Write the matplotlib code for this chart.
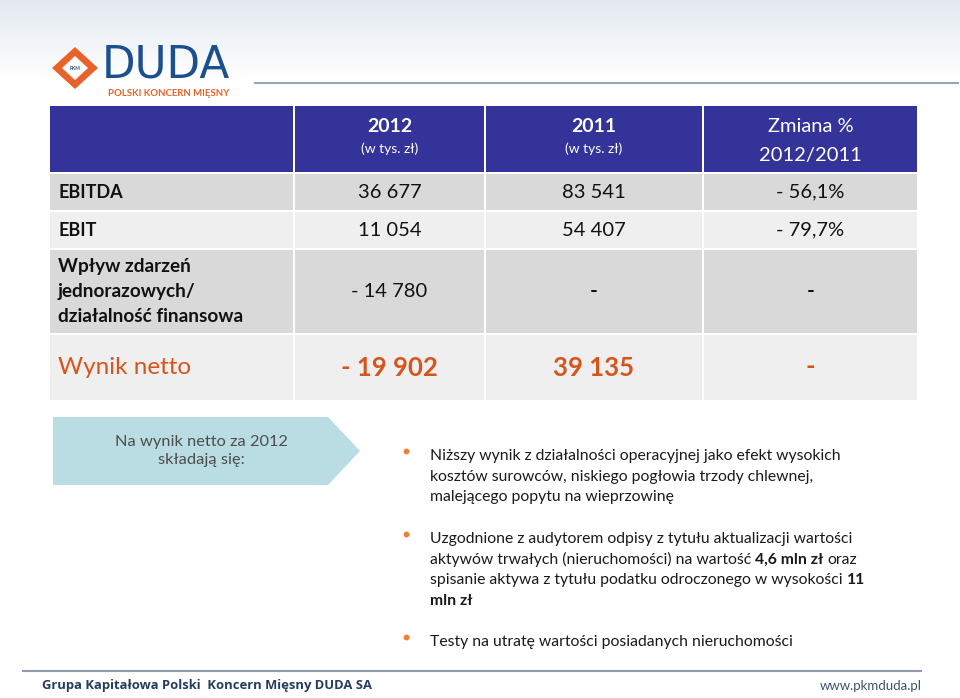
import matplotlib
matplotlib.use("Agg")
import matplotlib.pyplot as plt
from matplotlib.patches import Rectangle, Polygon
import numpy as np

plt.rcParams['font.family'] = ['Lato', 'DejaVu Sans']

# --- dane tabeli ---
col_headers = ["2012", "2011", "Zmiana %\n2012/2011"]
col_units = ["(w tys. zł)", "(w tys. zł)", ""]
row_labels = ["EBITDA", "EBIT", "Wpływ zdarzeń\njednorazowych/\ndziałalność finansowa", "Wynik netto"]
values_2012 = ["36 677", "11 054", "- 14 780", "- 19 902"]
values_2011 = ["83 541", "54 407", "-", "39 135"]
change_pct = ["- 56,1%", "- 79,7%", "-", "-"]

arrow_text = "Na wynik netto za 2012\nskładają się:"
bullets = [
    [[("Niższy wynik z działalności operacyjnej jako efekt wysokich", False)],
     [("kosztów surowców, niskiego pogłowia trzody chlewnej,", False)],
     [("malejącego popytu na wieprzowinę", False)]],
    [[("Uzgodnione z audytorem odpisy z tytułu aktualizacji wartości", False)],
     [("aktywów trwałych (nieruchomości) na wartość", False), ("4,6 mln zł", True), ("oraz", False)],
     [("spisanie aktywa z tytułu podatku odroczonego w wysokości", False), ("11", True)],
     [("mln zł", True)]],
    [[("Testy na utratę wartości posiadanych nieruchomości", False)]],
]
footer_left = "Grupa Kapitałowa Polski  Koncern Mięsny DUDA SA"
footer_right = "www.pkmduda.pl"

# kolory
BLUE = '#333399'
ORANGE = '#d4561c'
GREY = '#d9d9d9'
LIGHT = '#efefef'

fig = plt.figure(figsize=(9.6, 6.98), dpi=100)
ax = fig.add_axes([0, 0, 1, 1])
ax.set_xlim(0, 960)
ax.set_ylim(698, 0)
ax.axis('off')
renderer = fig.canvas.get_renderer()

# tlo u gory
grad = np.linspace(0, 1, 80)[:, None]
c0 = np.array([0.89, 0.915, 0.945])
img = c0 + (1 - c0) * grad[..., None]
img = np.repeat(img, 2, axis=1)
ax.imshow(img, extent=(0, 960, 80, 0), aspect='auto', zorder=0)

# logo
ax.add_patch(Polygon([(52, 68), (75, 47), (98, 68), (75, 89)], closed=True,
                     facecolor='#e8622a', edgecolor='none'))
ax.add_patch(Polygon([(62, 68), (75, 56), (88, 68), (75, 80)], closed=True,
                     facecolor='white', edgecolor='none'))
ax.text(75, 68.5, "PKM", fontsize=3.5, fontweight='bold', color='#2a4f8a',
        ha='center', va='center')
ax.text(102, 78, "DUDA", fontsize=31.5, color='#1b4f8f', ha='left', va='baseline',
        family=['DejaVu Sans'])
ax.text(108, 95.5, "POLSKI KONCERN MIĘSNY", fontsize=6.9, fontweight='bold',
        color='#e8622a', ha='left', va='baseline')
ax.plot([255, 958], [83, 83], color='#9aa5b1', lw=1.5)

# tabela
col_edges = [50, 293, 484, 702, 917]
gap = 2
row_tops = [174, 212, 250, 335]
row_bottoms = [210, 248, 333, 400]
row_fill = [GREY, LIGHT, GREY, LIGHT]
head_top, head_bottom = 106, 172

for c in range(4):
    x0 = col_edges[c] + (gap if c > 0 else 0)
    x1 = col_edges[c + 1]
    ax.add_patch(Rectangle((x0, head_top), x1 - x0, head_bottom - head_top,
                           facecolor=BLUE, edgecolor='none'))
    for r in range(4):
        ax.add_patch(Rectangle((x0, row_tops[r]), x1 - x0, row_bottoms[r] - row_tops[r],
                               facecolor=row_fill[r], edgecolor='none'))

col_centers = [(col_edges[c] + col_edges[c + 1]) / 2 + 1 for c in range(1, 4)]

for c in range(3):
    cx = col_centers[c]
    if col_units[c]:
        ax.text(cx, 126, col_headers[c], fontsize=14, fontweight='bold', color='white',
                ha='center', va='center')
        ax.text(cx, 149, col_units[c], fontsize=10, color='white',
                ha='center', va='center')
    else:
        top, bottom = col_headers[c].split("\n")
        ax.text(cx, 126, top, fontsize=14.5, color='white', ha='center', va='center')
        ax.text(cx, 155, bottom, fontsize=14.5, color='white', ha='center', va='center')

columns = [values_2012, values_2011, change_pct]
for r in range(4):
    cy = (row_tops[r] + row_bottoms[r]) / 2
    last = r == len(row_labels) - 1
    if last:
        ax.text(58, cy, row_labels[r], fontsize=17.5, color=ORANGE, ha='left', va='center')
    else:
        lines = row_labels[r].split("\n")
        n = len(lines)
        fs = 13 if n == 1 else 13.7
        for i, ln in enumerate(lines):
            ax.text(58, cy + (i - (n - 1) / 2) * 25, ln, fontsize=fs, fontweight='bold',
                    color='#111111', ha='left', va='center')
    for c in range(3):
        v = columns[c][r]
        if last:
            ax.text(col_centers[c], cy, v, fontsize=18.5, fontweight='bold', color=ORANGE,
                    ha='center', va='center')
        elif v == "-":
            ax.text(col_centers[c], cy, v, fontsize=15, fontweight='bold', color='#111111',
                    ha='center', va='center')
        else:
            ax.text(col_centers[c], cy, v, fontsize=14.5, color='#111111',
                    ha='center', va='center')

# strzalka
ax.add_patch(Polygon([(53, 417), (328, 417), (360, 451), (328, 485), (53, 485)],
                     closed=True, facecolor='#b9dde2', edgecolor='none'))
ax.text(201, 451, arrow_text, fontsize=11.8, color='#4d4d4d', ha='center', va='center',
        linespacing=1.35)

# punkty
BULLET_FS = 11.35
t1 = ax.text(0, 0, "x x", fontsize=BULLET_FS)
t2 = ax.text(0, 0, "xx", fontsize=BULLET_FS)
space_w = t1.get_window_extent(renderer).width - t2.get_window_extent(renderer).width
t1.remove()
t2.remove()

line_h = 20.7
y = 456
for b in bullets:
    ax.plot([406], [y - 5], marker='o', ms=4.2, color='#f07f30', mec='none')
    for line in b:
        x = 430
        for txt, bold in line:
            t = ax.text(x, y, txt, fontsize=BULLET_FS, color='#1a1a1a', ha='left',
                        va='center', fontweight='bold' if bold else 'normal')
            x += t.get_window_extent(renderer).width + space_w
        y += line_h
    y += line_h

# stopka
ax.plot([23, 921], [671, 671], color='#8d9bab', lw=1.5)
ax.text(42, 685, footer_left, fontsize=9.4, fontweight='bold', color='#263d5e',
        ha='left', va='center', family=['Open Sans', 'DejaVu Sans'])
ax.text(922, 686, footer_right, fontsize=9.5, color='#40526b', ha='right', va='center')

fig.savefig("out.png", dpi=100)
